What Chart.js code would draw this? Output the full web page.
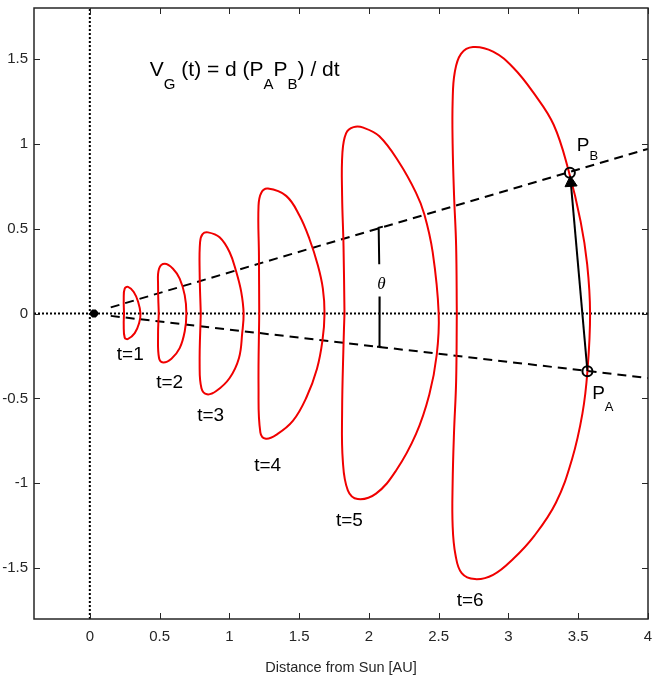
<!DOCTYPE html>
<html>
<head>
<meta charset="utf-8">
<script src="https://cdn.jsdelivr.net/npm/chart.js@4.4.0/dist/chart.umd.min.js"></script>
<style>
  html, body { margin: 0; padding: 0; background: #fff; }
  #wrap { width: 656px; height: 685px; }
</style>
</head>
<body>
<div id="wrap"><canvas id="myChart" width="656" height="685"></canvas></div>
<script>
// ---- data ----
const xTicks = [0, 0.5, 1, 1.5, 2, 2.5, 3, 3.5, 4];
const yTicks = [-1.5, -1, -0.5, 0, 0.5, 1, 1.5];

const timeLabels = ['t=1', 't=2', 't=3', 't=4', 't=5', 't=6'];

// closed curves, one per time step (x in AU, y in AU)
const loopT1 = [[0.245,0],[0.243,0.088],[0.250,0.147],[0.274,0.157],[0.315,0.127],[0.346,0.069],[0.363,0],
  [0.353,-0.058],[0.322,-0.116],[0.274,-0.150],[0.250,-0.142],[0.243,-0.067],[0.245,0]];
const loopT2 = [[0.494,0],[0.489,0.167],[0.496,0.264],[0.537,0.293],[0.596,0.264],[0.644,0.205],[0.680,0.108],
  [0.692,0],[0.680,-0.106],[0.644,-0.204],[0.585,-0.266],[0.525,-0.288],[0.496,-0.262],[0.489,-0.126],[0.494,0]];
const loopT3 = [[0.795,0],[0.787,0.244],[0.790,0.420],[0.808,0.468],[0.847,0.478],[0.930,0.449],[1.002,0.361],
  [1.050,0.244],[1.085,0.127],[1.102,0],[1.092,-0.116],[1.069,-0.262],[1.002,-0.380],[0.906,-0.457],
  [0.840,-0.476],[0.800,-0.440],[0.787,-0.300],[0.795,0]];
const loopT4 = [[1.214,0],[1.212,0.342],[1.209,0.634],[1.229,0.712],[1.276,0.736],[1.407,0.693],[1.503,0.576],
  [1.574,0.439],[1.634,0.284],[1.670,0.147],[1.682,0],[1.667,-0.160],[1.628,-0.325],[1.552,-0.495],
  [1.455,-0.633],[1.336,-0.715],[1.262,-0.738],[1.222,-0.700],[1.209,-0.438],[1.214,0]];
const loopT5 = [[1.825,0],[1.818,0.400],[1.808,0.693],[1.810,0.946],[1.837,1.063],[1.890,1.098],[1.960,1.095],
  [2.075,1.044],[2.218,0.888],[2.337,0.712],[2.397,0.585],[2.457,0.361],[2.500,0],[2.486,-0.243],
  [2.433,-0.477],[2.337,-0.711],[2.195,-0.925],[2.051,-1.061],[1.920,-1.093],[1.849,-1.042],
  [1.813,-0.867],[1.808,-0.574],[1.818,-0.184],[1.825,0]];
const loopT6 = [[2.630,0],[2.625,0.400],[2.610,0.700],[2.600,1.000],[2.600,1.250],[2.615,1.420],[2.660,1.530],
  [2.746,1.570],[2.890,1.543],[3.035,1.448],[3.179,1.301],[3.324,1.112],[3.432,0.838],[3.517,0.543],
  [3.564,0.291],[3.585,0],[3.566,-0.340],[3.530,-0.590],[3.455,-0.860],[3.340,-1.115],[3.185,-1.310],
  [3.035,-1.445],[2.890,-1.540],[2.760,-1.565],[2.665,-1.530],[2.620,-1.420],[2.600,-1.250],
  [2.600,-1.000],[2.610,-0.700],[2.625,-0.400],[2.630,0]];
const loops = [loopT1, loopT2, loopT3, loopT4, loopT5, loopT6];

// lines of sight from the Sun through P_B and P_A
const sunPos = [[0.03, 0]];
const rayB = [[0.15, 0.036], [4, 0.970]];
const rayA = [[0.15, -0.014], [4, -0.380]];
const pointA = [3.566, -0.340];
const pointB = [3.440, 0.829];
const arrowHead = [3.447, 0.770];
// angle marker between the rays (null = gap for the theta label)
const thetaMark = [[2.100, 0.512], [2.070, 0.505], [2.074, 0.290], null,
  [2.077, 0.100], [2.076, -0.195], null, [2.058, -0.196], [2.090, -0.197]];

// ---- label placement (data coordinates) ----
const timeLabelPos = [[0.29, -0.246], [0.572, -0.41], [0.866, -0.60], [1.274, -0.895], [1.86, -1.22], [2.726, -1.69]];

const toXY = arr => arr.map(p => p === null ? {x: NaN, y: NaN} : ({x: p[0], y: p[1]}));
const RED = 'rgb(240,0,0)';
const SANS = '"Liberation Sans", Arial, sans-serif';

const datasets = [];
// top-most first
datasets.push({ data: toXY([pointA, pointB]), showLine: false, pointRadius: 5, pointBorderWidth: 2,
  pointBorderColor: '#000', pointBackgroundColor: 'rgba(0,0,0,0)' });
datasets.push({ data: toXY([pointA, arrowHead]), showLine: true, borderColor: '#000', borderWidth: 2,
  pointRadius: [0, 7], pointStyle: 'triangle', rotation: -4, pointBackgroundColor: '#000', pointBorderColor: '#000', pointBorderWidth: 1 });
datasets.push({ data: toXY(sunPos), showLine: false, pointRadius: 4, pointStyle: 'star',
  pointBorderColor: '#000', pointBorderWidth: 3 });
datasets.push({ data: toXY(thetaMark), showLine: true, spanGaps: false, borderColor: '#000', borderWidth: 2, pointRadius: 0 });
loops.forEach(l => datasets.push({ data: toXY(l), showLine: true, tension: 0.4, borderColor: RED,
  borderWidth: 2, pointRadius: 0, fill: false }));
[rayB, rayA].forEach(r => datasets.push({ data: toXY(r), showLine: true, borderColor: '#000', borderWidth: 2,
  borderDash: [9, 6], pointRadius: 0 }));
// dotted axes through the origin
datasets.push({ data: [{x: -0.4, y: 0}, {x: 4, y: 0}], showLine: true, borderColor: '#000', borderWidth: 2,
  borderDash: [2, 2], pointRadius: 0 });
datasets.push({ data: [{x: 0, y: -1.8}, {x: 0, y: 1.8}], showLine: true, borderColor: '#000', borderWidth: 2,
  borderDash: [2, 2], pointRadius: 0 });

function textRuns(ctx, runs, x, y) {
  // runs: [text, size, baselineShift]
  let cx = x;
  runs.forEach(r => {
    ctx.font = r[1] + 'px ' + SANS;
    ctx.fillText(r[0], cx, y + r[2]);
    cx += ctx.measureText(r[0]).width;
  });
}

const annotations = {
  id: 'annotations',
  afterDatasetsDraw(chart) {
    const ctx = chart.ctx, xs = chart.scales.x, ys = chart.scales.y;
    ctx.save();
    ctx.fillStyle = '#000';
    ctx.textBaseline = 'middle';
    ctx.textAlign = 'center';
    ctx.font = '19px ' + SANS;
    timeLabels.forEach((t, i) => {
      ctx.fillText(t, xs.getPixelForValue(timeLabelPos[i][0]), ys.getPixelForValue(timeLabelPos[i][1]));
    });
    ctx.textAlign = 'left';
    ctx.textBaseline = 'alphabetic';
    textRuns(ctx, [['V', 21, 0], ['G', 15, 13], [' (t) = d (', 21, 0], ['P', 21, 0], ['A', 15, 13],
      ['P', 21, 0], ['B', 15, 13], [') / dt', 21, 0]], xs.getPixelForValue(0.43), ys.getPixelForValue(1.402));
    textRuns(ctx, [['P', 19, 0], ['B', 13, 9]], xs.getPixelForValue(3.49), ys.getPixelForValue(0.955));
    textRuns(ctx, [['P', 19, 0], ['A', 13, 12]], xs.getPixelForValue(3.6), ys.getPixelForValue(-0.504));
    ctx.font = 'italic 17px "Liberation Serif", "Times New Roman", serif';
    ctx.textAlign = 'center';
    ctx.textBaseline = 'middle';
    ctx.fillText('\u03B8', xs.getPixelForValue(2.09), ys.getPixelForValue(0.168));
    ctx.restore();
  }
};

const boxTicks = {
  id: 'boxTicks',
  afterDraw(chart) {
    const ctx = chart.ctx, a = chart.chartArea, xs = chart.scales.x, ys = chart.scales.y;
    const len = 6;
    ctx.save();
    ctx.strokeStyle = '#262626';
    ctx.lineWidth = 1.5;
    ctx.strokeRect(a.left, a.top, a.right - a.left, a.bottom - a.top);
    ctx.beginPath();
    xTicks.forEach(v => {
      const px = Math.round(xs.getPixelForValue(v)) + 0.5;
      ctx.moveTo(px, a.bottom); ctx.lineTo(px, a.bottom - len);
      ctx.moveTo(px, a.top); ctx.lineTo(px, a.top + len);
    });
    yTicks.forEach(v => {
      const py = Math.round(ys.getPixelForValue(v)) + 0.5;
      ctx.moveTo(a.left, py); ctx.lineTo(a.left + len, py);
      ctx.moveTo(a.right, py); ctx.lineTo(a.right - len, py);
    });
    ctx.lineWidth = 1;
    ctx.stroke();
    ctx.restore();
  }
};

function drawChart() {
  const config = {
    type: 'scatter',
    data: { datasets: datasets },
    options: {
      responsive: false,
      animation: false,
      devicePixelRatio: 1,
      layout: { padding: { left: 0, right: 7, top: 4, bottom: 0 } },
      plugins: { legend: { display: false }, tooltip: { enabled: false } },
      scales: {
        x: {
          type: 'linear', min: -0.4, max: 4,
          grid: { display: false, drawTicks: false }, border: { display: false },
          afterBuildTicks: s => { s.ticks = xTicks.map(v => ({ value: v })); },
          afterFit: s => { s.height = 66; s.paddingLeft = 0; s.paddingRight = 0; },
          ticks: { autoSkip: false, maxRotation: 0, padding: 9, color: '#262626',
            font: { size: 15, family: SANS }, callback: v => String(v) },
          title: { display: true, text: 'Distance from Sun [AU]', color: '#262626',
            font: { size: 14.5, family: SANS }, padding: { top: 0, bottom: 8 } }
        },
        y: {
          type: 'linear', min: -1.8, max: 1.8,
          grid: { display: false, drawTicks: false }, border: { display: false },
          afterBuildTicks: s => { s.ticks = yTicks.map(v => ({ value: v })); },
          afterFit: s => { s.width = 34; s.paddingTop = 0; s.paddingBottom = 0; },
          ticks: { autoSkip: false, padding: 6, color: '#262626',
            font: { size: 15, family: SANS }, callback: v => String(v) }
        }
      }
    },
    plugins: [annotations, boxTicks]
  };
  new Chart(document.getElementById('myChart'), config);
}

window.onload = drawChart;
</script>
</body>
</html>
